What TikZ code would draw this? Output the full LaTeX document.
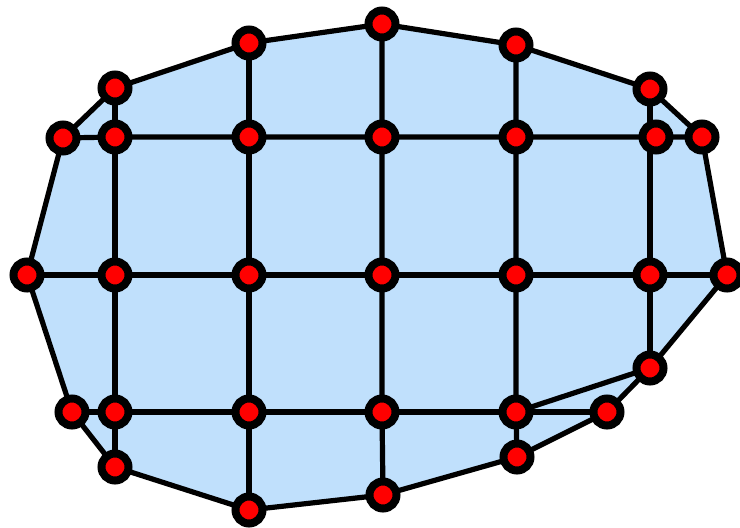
\documentclass[tikz,border=0pt]{standalone}
\begin{document}
\begin{tikzpicture}[x=1pt,y=-1pt,
  vtx/.style={circle,draw=black,fill=red,line width=8pt,minimum size=27pt,inner sep=0pt},
  edge/.style={draw=black,line width=5.2pt}]
\definecolor{region}{RGB}{192,224,252}
\useasboundingbox (0,0) rectangle (740,528);
% coordinates
\coordinate (o1) at (63,138);
\coordinate (o2) at (115,88);
\coordinate (o3) at (249,43);
\coordinate (o4) at (382,24);
\coordinate (o5) at (516,45);
\coordinate (o6) at (650,89);
\coordinate (o7) at (702,137);
\coordinate (o8) at (727,275);
\coordinate (o9) at (650,368);
\coordinate (o10) at (607,412);
\coordinate (o11) at (517,457);
\coordinate (o12) at (383,495);
\coordinate (o13) at (249,510);
\coordinate (o14) at (115,467);
\coordinate (o15) at (72,412);
\coordinate (o16) at (27,275);
\fill[region] (o1)--(o2)--(o3)--(o4)--(o5)--(o6)--(o7)--(o8)--(o9)--(o10)--(o11)--(o12)--(o13)--(o14)--(o15)--(o16)--cycle;
% grid coordinates
\coordinate (a1) at (115,137); \coordinate (a2) at (249,137); \coordinate (a3) at (382,137); \coordinate (a4) at (516,137); \coordinate (a5) at (656,137);
\coordinate (b1) at (115,275); \coordinate (b2) at (249,275); \coordinate (b3) at (382,275); \coordinate (b4) at (516,275); \coordinate (b5) at (650,275);
\coordinate (c1) at (115,412); \coordinate (c2) at (249,412); \coordinate (c3) at (382,412); \coordinate (c4) at (516,412);
% edges
\draw[edge,line join=round] (o1)--(o2)--(o3)--(o4)--(o5)--(o6)--(o7)--(o8)--(o9)--(o10)--(o11)--(o12)--(o13)--(o14)--(o15)--(o16)--cycle;
\draw[edge] (o1)--(a1)--(a2)--(a3)--(a4)--(a5)--(o7);
\draw[edge] (o16)--(b1)--(b2)--(b3)--(b4)--(b5)--(o8);
\draw[edge] (o15)--(c1)--(c2)--(c3)--(c4)--(o10);
\draw[edge] (c4)--(o9);
\draw[edge] (o2)--(a1)--(b1)--(c1)--(o14);
\draw[edge] (o3)--(a2)--(b2)--(c2)--(o13);
\draw[edge] (o4)--(a3)--(b3)--(c3)--(o12);
\draw[edge] (o5)--(a4)--(b4)--(c4)--(o11);
\draw[edge] (o6)--(650,137)--(b5)--(o9);
% vertices
\foreach \p in {o1,o2,o3,o4,o5,o6,o7,o8,o9,o10,o11,o12,o13,o14,o15,o16,a1,a2,a3,a4,a5,b1,b2,b3,b4,b5,c1,c2,c3,c4}
  \node[vtx] (n\p) at (\p) {};
\end{tikzpicture}
\end{document}
